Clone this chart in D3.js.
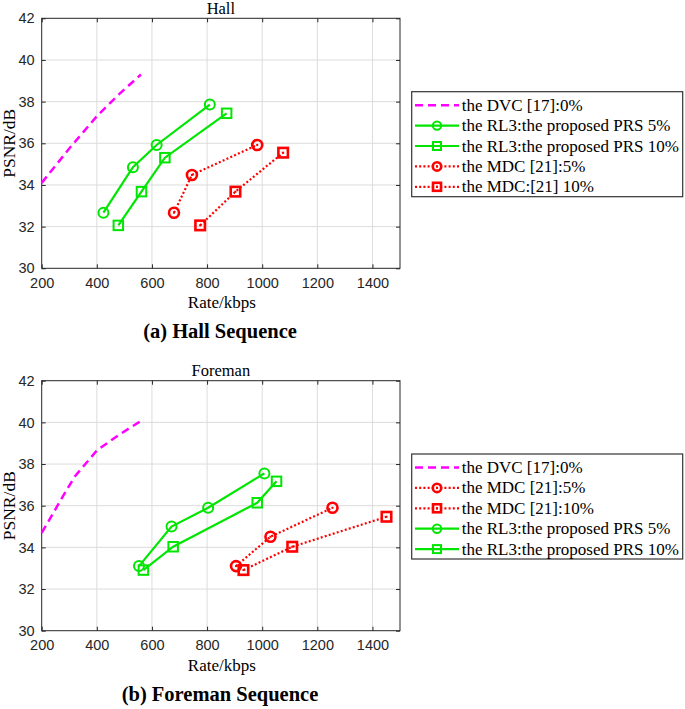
<!DOCTYPE html>
<html>
<head>
<meta charset="utf-8">
<script src="https://cdn.jsdelivr.net/npm/d3@7"></script>
<style>
  body { margin: 0; background: #fff; }
  svg { display: block; }
</style>
</head>
<body>
<svg id="chart" width="685" height="709"></svg>
<script>
// ---------- data ----------
const xTicks = [200, 400, 600, 800, 1000, 1200, 1400];
const yTicks = [30, 32, 34, 36, 38, 40, 42];
const xDomain = [200, 1500];
const yDomain = [30, 42];

// Hall
const hallDVC_x   = [200, 300, 400, 480, 560];
const hallDVC_y   = [34.1, 35.75, 37.3, 38.35, 39.3];
const hallRL5_x   = [424, 531, 617, 810];
const hallRL5_y   = [32.67, 34.85, 35.92, 37.86];
const hallRL10_x  = [478, 562, 647, 871];
const hallRL10_y  = [32.06, 33.68, 35.31, 37.44];
const hallMDC5_x  = [680, 745, 982];
const hallMDC5_y  = [32.67, 34.48, 35.92];
const hallMDC10_x = [775, 903, 1076];
const hallMDC10_y = [32.06, 33.68, 35.55];

// Foreman
const foreDVC_x   = [200, 240, 270, 320, 400, 480, 560];
const foreDVC_y   = [34.7, 35.6, 36.3, 37.4, 38.65, 39.4, 40.07];
const foreRL5_x   = [553, 671, 804, 1008];
const foreRL5_y   = [33.1, 35.0, 35.9, 37.55];
const foreRL10_x  = [569, 677, 982, 1052];
const foreRL10_y  = [32.91, 34.03, 36.14, 37.17];
const foreMDC5_x  = [905, 1030, 1255];
const foreMDC5_y  = [33.1, 34.51, 35.9];
const foreMDC10_x = [932, 1109, 1451];
const foreMDC10_y = [32.91, 34.03, 35.47];

const hallLabels = ["the DVC [17]:0%", "the RL3:the proposed PRS 5%", "the RL3:the proposed PRS 10%", "the MDC [21]:5%", "the MDC:[21] 10%"];
const foreLabels = ["the DVC [17]:0%", "the MDC [21]:5%", "the MDC [21]:10%", "the RL3:the proposed PRS 5%", "the RL3:the proposed PRS 10%"];

const titles = ["Hall", "Foreman"];
const captions = ["(a) Hall Sequence", "(b) Foreman Sequence"];
const xLabel = "Rate/kbps";
const yLabel = "PSNR/dB";

// ---------- styles ----------
const GREEN = "#00e600", RED = "#ff0000", MAG = "#ff00ff";
const styles = {
  dvc:   {color: MAG,   dash: "8,5", width: 2.5, marker: null},
  rl5:   {color: GREEN, dash: null,  width: 2.2, marker: "circle"},
  rl10:  {color: GREEN, dash: null,  width: 2.2, marker: "square"},
  mdc5:  {color: RED,   dash: "2,2.2", width: 2.2, marker: "circle"},
  mdc10: {color: RED,   dash: "2,2.2", width: 2.2, marker: "square"}
};

const zip = (xs, ys) => xs.map((x, i) => [x, ys[i]]);

const panels = [
  {
    top: 18.3, title: titles[0], caption: captions[0],
    series: [
      {key: "dvc", pts: zip(hallDVC_x, hallDVC_y), label: hallLabels[0]},
      {key: "rl5", pts: zip(hallRL5_x, hallRL5_y), label: hallLabels[1]},
      {key: "rl10", pts: zip(hallRL10_x, hallRL10_y), label: hallLabels[2]},
      {key: "mdc5", pts: zip(hallMDC5_x, hallMDC5_y), label: hallLabels[3]},
      {key: "mdc10", pts: zip(hallMDC10_x, hallMDC10_y), label: hallLabels[4]}
    ],
    legendTop: 91.7
  },
  {
    top: 380.7, title: titles[1], caption: captions[1],
    series: [
      {key: "dvc", pts: zip(foreDVC_x, foreDVC_y), label: foreLabels[0]},
      {key: "mdc5", pts: zip(foreMDC5_x, foreMDC5_y), label: foreLabels[1]},
      {key: "mdc10", pts: zip(foreMDC10_x, foreMDC10_y), label: foreLabels[2]},
      {key: "rl5", pts: zip(foreRL5_x, foreRL5_y), label: foreLabels[3]},
      {key: "rl10", pts: zip(foreRL10_x, foreRL10_y), label: foreLabels[4]}
    ],
    legendTop: 454
  }
];

const svg = d3.select("#chart");
const left = 41.7, right = 400, plotH = 250;
const SERIF = "'Liberation Serif', 'Times New Roman', serif";
const SANS = "'Liberation Sans', Arial, sans-serif";

function drawMarker(g, type, cx, cy, st, big) {
  const sw = st.color === RED ? 2.6 : 2.0;
  if (type === "circle") {
    g.append("circle").attr("cx", cx).attr("cy", cy).attr("r", big ? 5 : 4.2)
      .attr("fill", "none").attr("stroke", st.color).attr("stroke-width", sw);
  } else if (type === "square") {
    const s = big ? 9.5 : 8;
    g.append("rect").attr("x", cx - s / 2).attr("y", cy - s / 2).attr("width", s).attr("height", s)
      .attr("fill", "none").attr("stroke", st.color).attr("stroke-width", sw);
  }
  if (st.color === RED) {
    g.append("rect").attr("x", cx - 1).attr("y", cy - 1).attr("width", 2).attr("height", 2).attr("fill", st.color);
  }
}

panels.forEach(p => {
  const x = d3.scaleLinear().domain(xDomain).range([left, right]);
  const y = d3.scaleLinear().domain(yDomain).range([p.top + plotH, p.top]);
  const g = svg.append("g");

  // grid
  g.append("g").selectAll("line").data(xTicks.slice(1)).join("line")
    .attr("x1", d => x(d)).attr("x2", d => x(d)).attr("y1", p.top).attr("y2", p.top + plotH)
    .attr("stroke", "#dcdcdc").attr("stroke-width", 1);
  g.append("g").selectAll("line").data(yTicks.slice(1, -1)).join("line")
    .attr("y1", d => y(d)).attr("y2", d => y(d)).attr("x1", left).attr("x2", right)
    .attr("stroke", "#dcdcdc").attr("stroke-width", 1);

  // axes
  const fmt = d3.format("d");
  const xAxis = d3.axisBottom(x).tickValues(xTicks).tickFormat(fmt).tickSizeInner(-4).tickSizeOuter(0).tickPadding(9);
  const yAxis = d3.axisLeft(y).tickValues(yTicks).tickFormat(fmt).tickSizeInner(-4).tickSizeOuter(0).tickPadding(7);
  const xTop = d3.axisTop(x).tickValues(xTicks).tickSizeInner(-4).tickSizeOuter(0).tickFormat("");
  const yRight = d3.axisRight(y).tickValues(yTicks).tickSizeInner(-4).tickSizeOuter(0).tickFormat("");

  const gx = g.append("g").attr("transform", `translate(0,${p.top + plotH})`).call(xAxis);
  const gy = g.append("g").attr("transform", `translate(${left},0)`).call(yAxis);
  const gxt = g.append("g").attr("transform", `translate(0,${p.top})`).call(xTop);
  const gyr = g.append("g").attr("transform", `translate(${right},0)`).call(yRight);
  [gx, gy, gxt, gyr].forEach(a => {
    a.select(".domain").remove();
    a.selectAll(".tick line").attr("stroke", "#262626");
    a.selectAll(".tick text").attr("font-family", SANS).attr("font-size", 14.5).attr("fill", "#262626");
  });
  g.append("rect").attr("x", left).attr("y", p.top).attr("width", right - left).attr("height", plotH)
    .attr("fill", "none").attr("stroke", "#262626").attr("stroke-width", 1);

  // title & labels
  g.append("text").attr("x", (left + right) / 2).attr("y", p.top - 4.5).attr("text-anchor", "middle")
    .attr("font-family", SERIF).attr("font-size", 16.5).attr("fill", "#000").text(p.title);
  g.append("text").attr("x", (left + right) / 2 + 1).attr("y", p.top + plotH + 40).attr("text-anchor", "middle")
    .attr("font-family", SERIF).attr("font-size", 17).attr("fill", "#000").text(xLabel);
  g.append("text").attr("transform", `translate(${15},${p.top + plotH / 2}) rotate(-90)`).attr("text-anchor", "middle")
    .attr("font-family", SERIF).attr("font-size", 17.5).attr("fill", "#000").text(yLabel);
  g.append("text").attr("x", 220).attr("y", p.top + plotH + 70).attr("text-anchor", "middle")
    .attr("font-family", SERIF).attr("font-size", 20.5).attr("font-weight", "bold").attr("fill", "#000").text(p.caption);

  // series
  const line = d3.line().x(d => x(d[0])).y(d => y(d[1]));
  p.series.forEach(s => {
    const st = styles[s.key];
    g.append("path").attr("d", line(s.pts)).attr("fill", "none").attr("stroke", st.color)
      .attr("stroke-width", st.width).attr("stroke-dasharray", st.dash);
    if (st.marker) s.pts.forEach(d => drawMarker(g, st.marker, x(d[0]), y(d[1]), st, true));
  });

  // legend
  const lg = g.append("g");
  lg.append("rect").attr("x", 411.7).attr("y", p.legendTop).attr("width", 271).attr("height", 105)
    .attr("fill", "#fff").attr("stroke", "#333").attr("stroke-width", 1.2);
  p.series.forEach((s, i) => {
    const st = styles[s.key];
    const cy = p.legendTop + 13.5 + i * 20.4;
    lg.append("line").attr("x1", 415).attr("x2", 459).attr("y1", cy).attr("y2", cy)
      .attr("stroke", st.color).attr("stroke-width", st.width).attr("stroke-dasharray", st.dash);
    if (st.marker) drawMarker(lg, st.marker, 437, cy, st, false);
    lg.append("text").attr("x", 461.7).attr("y", cy + 5.5).attr("font-family", SERIF).attr("font-size", 17)
      .attr("fill", "#000").text(s.label);
  });
});
</script>
</body>
</html>
